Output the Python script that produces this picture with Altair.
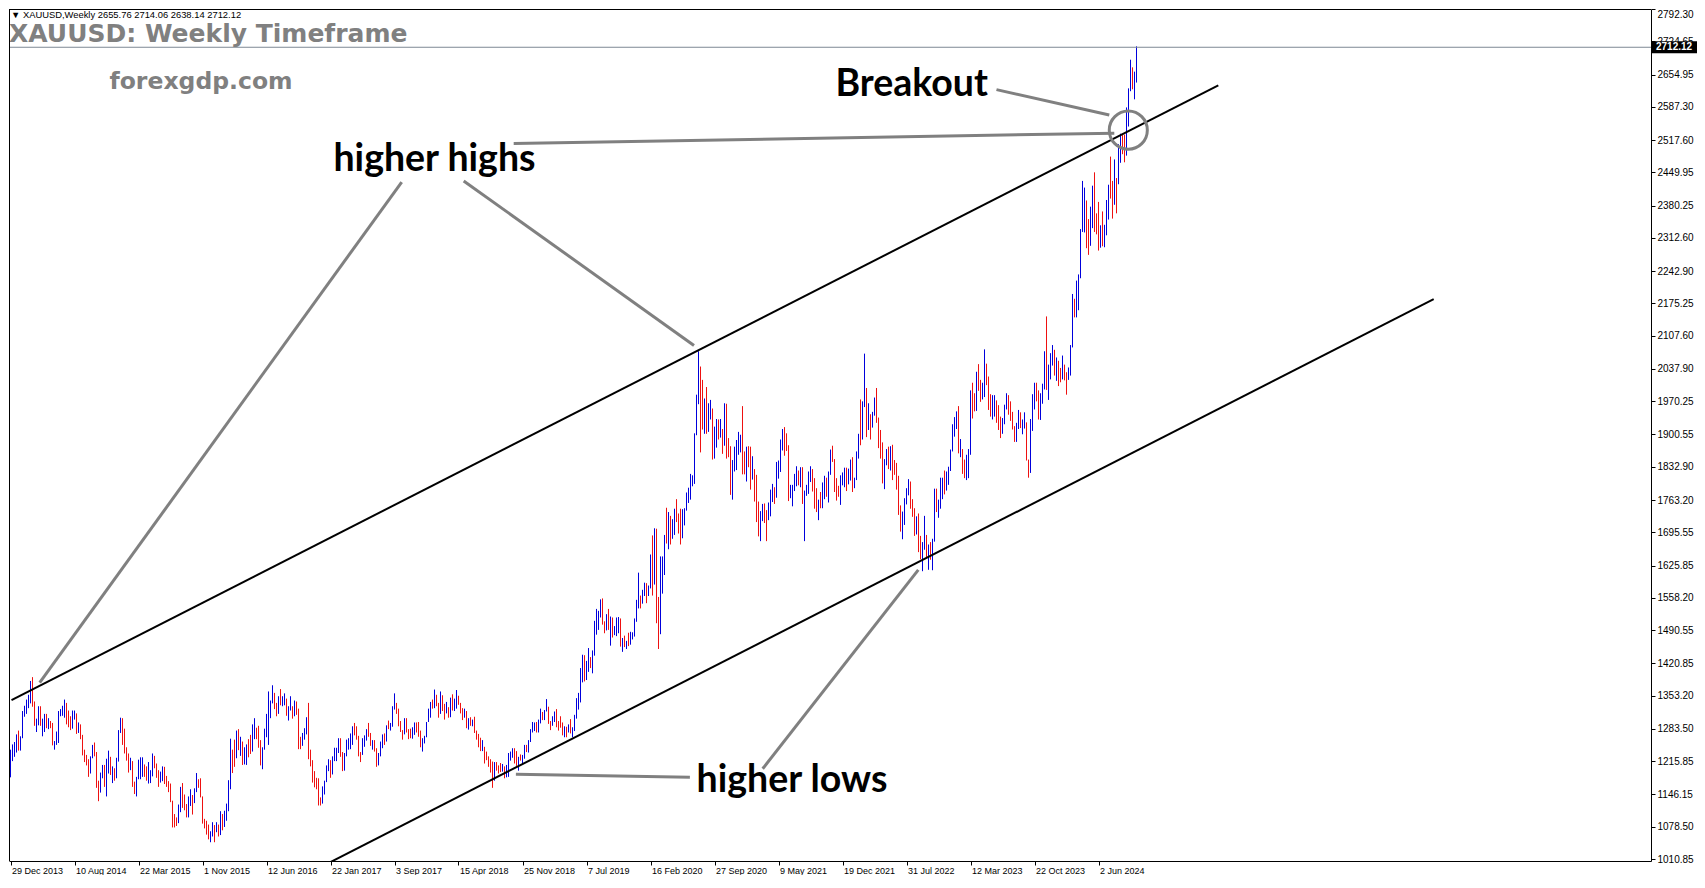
import altair as alt
import pandas as pd

# ---------------- data ----------------
x_tick_labels = ["29 Dec 2013", "10 Aug 2014", "22 Mar 2015", "1 Nov 2015", "12 Jun 2016",
                 "22 Jan 2017", "3 Sep 2017", "15 Apr 2018", "25 Nov 2018", "7 Jul 2019",
                 "16 Feb 2020", "27 Sep 2020", "9 May 2021", "19 Dec 2021", "31 Jul 2022",
                 "12 Mar 2023", "22 Oct 2023", "2 Jun 2024"]
x_tick_step = 32
y_tick_values = [2792.30, 2724.65, 2654.95, 2587.30, 2517.60, 2449.95, 2380.25, 2312.60,
                 2242.90, 2175.25, 2107.60, 2037.90, 1970.25, 1900.55, 1832.90, 1763.20,
                 1695.55, 1625.85, 1558.20, 1490.55, 1420.85, 1353.20, 1283.50, 1215.85,
                 1146.15, 1078.50, 1010.85]

first_open = 1202.0

high = [
    # 2014
    1240,1251,1256,1272,1280,1268,1321,1332,1345,1355,1384,1392,1341,1305,1331,1331,1305,1315,1315,1306,
    1300,1296,1258,1278,1321,1325,1332,1345,1338,1322,1310,1322,1322,1316,1297,1293,1271,1240,1229,1220,
    1226,1250,1255,1235,1175,1192,1208,1208,1221,1238,1225,1205,1201,
    # 2015
    1223,1281,1307,1306,1284,1245,1232,1223,1216,1173,1183,1219,1224,1224,1209,1205,1214,1197,1232,1227,
    1211,1197,1194,1205,1204,1185,1174,1169,1133,1105,1098,1125,1162,1170,1146,1126,1142,1157,1145,1159,
    1191,1178,1180,1142,1095,1091,1083,1069,1088,1082,1088,1083,
    # 2016
    1111,1105,1112,1127,1176,1263,1240,1261,1280,1283,1267,1257,1245,1251,1262,1271,1293,1306,1286,1290,
    1260,1245,1284,1315,1362,1343,1375,1359,1338,1352,1367,1352,1358,1347,1331,1352,1331,1343,1341,1326,
    1267,1275,1285,1308,1338,1240,1218,1195,1181,1180,1140,1163,
    # 2017
    1175,1207,1220,1218,1226,1244,1244,1264,1264,1235,1233,1261,1264,1274,1289,1296,1289,1269,1235,1264,
    1270,1283,1296,1275,1260,1260,1243,1233,1257,1272,1274,1291,1301,1296,1331,1358,1338,1326,1300,1281,
    1306,1306,1283,1284,1287,1297,1297,1298,1280,1264,1269,1298,
    # 2018
    1326,1340,1345,1366,1355,1338,1362,1354,1336,1340,1329,1349,1356,1347,1365,1353,1338,1327,1326,1321,
    1306,1308,1303,1309,1280,1273,1265,1260,1246,1236,1226,1220,1215,1214,1214,1207,1212,1210,1205,1208,
    1233,1236,1243,1243,1237,1225,1230,1229,1250,1250,1260,1283,
    # 2019
    1298,1297,1298,1303,1326,1319,1323,1346,1330,1300,1310,1320,1325,1300,1310,1297,1289,1288,1293,1304,
    1287,1313,1348,1359,1411,1439,1438,1426,1453,1434,1448,1510,1535,1531,1555,1557,1509,1524,1535,1519,
    1517,1499,1517,1518,1515,1474,1479,1468,1485,1487,1486,1515,
    # 2020
    1554,1611,1563,1575,1590,1589,1584,1649,1689,1704,1703,1560,1645,1645,1690,1747,1738,1730,1723,1745,
    1765,1735,1745,1744,1746,1779,1789,1818,1815,1903,1984,2075,2043,2015,1976,2000,1966,1973,1955,1917,
    1933,1932,1933,1912,1966,1965,1893,1876,1847,1875,1889,1906,
    # 2021
    1900,1960,1865,1875,1876,1875,1855,1828,1816,1760,1740,1755,1756,1742,1758,1785,1797,1790,1843,1846,
    1890,1912,1916,1903,1878,1795,1795,1818,1834,1825,1832,1832,1783,1795,1823,1834,1828,1809,1788,1764,
    1780,1800,1814,1810,1823,1869,1877,1849,1809,1793,1815,1821,
    # 2022
    1831,1831,1829,1848,1853,1810,1865,1902,1974,1970,2070,1998,1966,1943,1948,1978,1998,1936,1910,1884,
    1849,1870,1875,1876,1879,1847,1841,1814,1752,1739,1767,1788,1807,1802,1765,1746,1729,1735,1688,1675,
    1730,1690,1670,1675,1682,1787,1787,1764,1810,1810,1825,1823,
    # 2023
    1833,1869,1922,1937,1949,1960,1891,1870,1848,1858,1870,1993,2009,1987,2032,2048,2015,2009,2079,2049,
    2022,1985,1983,1983,1972,1962,1938,1935,1963,1987,1983,1970,1948,1918,1925,1952,1947,1932,1947,1926,
    1848,1933,1985,2009,2009,1993,1987,2007,2075,2148,2047,2071,
    # 2024
    2088,2078,2062,2055,2040,2066,2047,2031,2041,2088,2195,2185,2223,2236,2331,2432,2418,2391,2352,2378,
    2422,2450,2364,2388,2339,2368,2340,2392,2424,2483,2432,2477,2438,2509,2531,2528,2529,2586,2626,2686,
    2670,2661,2714.06,
]

low = [
    # 2014
    1182,1216,1225,1234,1238,1238,1264,1309,1315,1327,1337,1330,1290,1277,1291,1290,1268,1277,1285,1283,
    1285,1249,1240,1250,1254,1310,1311,1307,1293,1287,1281,1284,1303,1273,1275,1262,1228,1214,1207,1183,
    1190,1222,1226,1160,1132,1150,1180,1162,1142,1190,1187,1170,1175,
    # 2015
    1180,1215,1275,1250,1232,1217,1192,1197,1162,1147,1142,1178,1178,1183,1183,1175,1169,1170,1184,1201,
    1181,1162,1171,1174,1168,1162,1151,1130,1077,1077,1080,1086,1109,1118,1113,1098,1098,1122,1104,1128,
    1151,1160,1140,1085,1075,1062,1052,1046,1058,1046,1067,1058,
    # 2016
    1061,1071,1078,1091,1111,1157,1191,1204,1222,1239,1227,1208,1209,1208,1224,1231,1236,1262,1262,1244,
    1207,1199,1240,1266,1250,1306,1337,1325,1310,1315,1333,1331,1333,1311,1301,1322,1305,1310,1313,1241,
    1241,1248,1261,1272,1220,1205,1171,1161,1157,1123,1123,1127,
    # 2017
    1146,1172,1195,1181,1188,1216,1216,1233,1225,1195,1196,1226,1240,1241,1250,1270,1261,1226,1214,1229,
    1246,1259,1267,1248,1240,1236,1204,1207,1226,1243,1250,1257,1283,1280,1288,1324,1315,1289,1277,1261,
    1272,1276,1262,1264,1263,1271,1276,1267,1245,1236,1253,1266,
    # 2018
    1298,1307,1326,1327,1331,1307,1315,1321,1303,1316,1307,1308,1322,1321,1326,1334,1316,1302,1307,1285,
    1282,1290,1289,1275,1261,1245,1237,1237,1211,1218,1204,1192,1160,1175,1196,1190,1193,1194,1180,1182,
    1183,1217,1223,1211,1206,1196,1217,1211,1221,1235,1234,1256,
    # 2019
    1276,1279,1276,1276,1295,1302,1302,1320,1294,1281,1290,1298,1287,1280,1286,1270,1266,1266,1276,1274,
    1266,1279,1305,1324,1339,1381,1383,1386,1403,1411,1400,1437,1481,1491,1517,1502,1484,1490,1491,1458,
    1475,1480,1478,1484,1456,1445,1455,1451,1457,1460,1471,1477,
    # 2020
    1508,1536,1536,1546,1562,1547,1562,1578,1563,1586,1505,1451,1482,1567,1606,1672,1660,1670,1682,1690,
    1717,1693,1670,1683,1710,1741,1757,1764,1792,1797,1899,1964,1863,1911,1902,1902,1906,1932,1848,1850,
    1873,1890,1894,1860,1877,1850,1853,1774,1764,1823,1826,1858,
    # 2021
    1863,1817,1817,1802,1832,1785,1806,1760,1717,1687,1677,1719,1715,1677,1721,1729,1759,1755,1768,1808,
    1822,1867,1856,1866,1761,1767,1750,1782,1792,1794,1790,1755,1677,1772,1776,1801,1781,1745,1738,1721,
    1746,1746,1765,1770,1758,1816,1843,1780,1762,1770,1753,1794,
    # 2022
    1790,1782,1796,1804,1780,1788,1805,1850,1878,1890,1958,1895,1910,1890,1915,1940,1925,1872,1850,1798,
    1786,1836,1828,1825,1805,1816,1785,1732,1697,1681,1711,1754,1773,1745,1728,1688,1691,1654,1639,1614,
    1659,1641,1617,1638,1616,1676,1738,1726,1745,1765,1775,1783,
    # 2023
    1795,1824,1865,1896,1912,1861,1853,1818,1809,1805,1809,1858,1934,1949,1950,1992,1969,1974,1979,2004,
    1952,1938,1932,1938,1925,1910,1893,1902,1922,1953,1942,1929,1911,1885,1885,1912,1914,1901,1913,1846,
    1810,1820,1908,1953,1970,1932,1931,1965,1995,1994,1973,2016,
    # 2024
    2045,2024,2013,2002,2010,2016,2014,1984,2015,2024,2083,2146,2146,2161,2228,2325,2324,2291,2277,2296,
    2333,2325,2320,2286,2292,2295,2293,2318,2351,2395,2353,2382,2364,2425,2470,2488,2471,2485,2546,2620,
    2624,2603,2638.14,
]

close = [
    # 2014
    1237,1248,1252,1264,1240,1262,1318,1323,1326,1339,1379,1335,1294,1302,1318,1294,1300,1302,1291,1293,
    1292,1251,1252,1274,1316,1316,1320,1338,1310,1307,1294,1311,1314,1280,1286,1268,1231,1215,1214,1192,
    1222,1238,1231,1171,1169,1186,1200,1167,1191,1222,1195,1195,1186,
    # 2015
    1216,1277,1293,1279,1234,1228,1205,1212,1164,1152,1182,1199,1200,1206,1203,1178,1178,1189,1225,1204,
    1189,1168,1180,1201,1173,1168,1157,1131,1098,1095,1094,1113,1160,1134,1121,1103,1138,1145,1137,1156,
    1176,1163,1142,1088,1081,1077,1056,1063,1075,1065,1076,1061,
    # 2016
    1104,1090,1097,1116,1174,1238,1230,1222,1271,1250,1254,1221,1221,1243,1235,1233,1290,1290,1273,1252,
    1213,1243,1275,1298,1322,1340,1366,1327,1323,1350,1336,1336,1340,1320,1327,1328,1310,1338,1316,1257,
    1251,1267,1275,1304,1226,1208,1179,1178,1159,1133,1132,1150,
    # 2017
    1173,1197,1205,1190,1220,1234,1236,1257,1234,1202,1229,1243,1249,1254,1288,1284,1268,1228,1227,1254,
    1267,1280,1271,1253,1256,1242,1212,1227,1254,1268,1258,1289,1285,1291,1325,1346,1320,1297,1280,1275,
    1304,1280,1273,1269,1275,1294,1288,1280,1248,1257,1267,1297,
    # 2018
    1322,1338,1333,1349,1333,1315,1346,1330,1322,1324,1312,1346,1324,1332,1345,1336,1323,1314,1319,1291,
    1303,1294,1298,1278,1270,1252,1241,1241,1231,1223,1214,1212,1184,1206,1201,1197,1194,1198,1195,1202,
    1217,1226,1233,1232,1209,1223,1222,1222,1248,1238,1257,1280,
    # 2019
    1285,1288,1282,1297,1317,1314,1322,1329,1299,1298,1302,1313,1292,1291,1290,1275,1286,1280,1286,1277,
    1284,1305,1341,1341,1400,1409,1400,1416,1425,1419,1440,1497,1513,1527,1529,1506,1488,1517,1497,1504,
    1488,1490,1505,1509,1459,1468,1462,1463,1460,1476,1478,1511,
    # 2020
    1552,1562,1557,1571,1589,1570,1584,1644,1585,1674,1530,1498,1617,1620,1683,1682,1726,1700,1702,1743,
    1734,1730,1684,1729,1743,1771,1774,1799,1810,1902,1975,2035,1944,1940,1964,1934,1940,1950,1862,1900,
    1930,1900,1902,1879,1951,1888,1871,1788,1839,1839,1881,1883,
    # 2021
    1895,1849,1828,1856,1848,1814,1824,1784,1734,1700,1719,1745,1732,1728,1744,1777,1777,1769,1831,1844,
    1881,1903,1891,1877,1764,1781,1787,1808,1814,1801,1814,1763,1780,1781,1817,1827,1787,1754,1750,1761,
    1757,1767,1793,1783,1818,1865,1846,1792,1783,1782,1798,1808,
    # 2022
    1829,1797,1818,1835,1791,1808,1859,1898,1889,1966,1988,1921,1958,1925,1945,1974,1931,1896,1883,1811,
    1846,1853,1851,1871,1840,1827,1811,1742,1707,1727,1766,1775,1802,1747,1737,1712,1716,1675,1644,1661,
    1695,1644,1657,1644,1681,1769,1751,1754,1797,1797,1793,1798,
    # 2023
    1824,1865,1920,1926,1928,1865,1865,1842,1811,1856,1868,1989,1978,1969,2007,2004,1983,1990,2017,2011,
    1978,1946,1948,1962,1958,1921,1919,1925,1955,1962,1959,1943,1914,1889,1915,1940,1919,1923,1925,1848,
    1833,1932,1981,2006,1992,1940,1981,2001,2072,2004,2019,2053,
    # 2024
    2062,2045,2049,2029,2018,2039,2024,2013,2035,2083,2179,2155,2165,2230,2330,2344,2392,2337,2301,2360,
    2415,2334,2327,2293,2333,2322,2326,2392,2411,2401,2386,2443,2431,2507,2512,2503,2497,2578,2622,2658,
    2653,2655.76,2712.12,
]

# channel (trend) lines: bar index / price end points
channel_x0 = [0.5, 155.6]
channel_y0 = [1344.0, 995.0]
channel_x1 = [603.9, 711.6]
channel_y1 = [2632.2, 2184.3]

# grey pointer lines
pointer_x0 = [251.6, 195.6, 226.6, 493.0, 252.7, 376.1]
pointer_y0 = [2510.6, 2429.7, 2432.0, 2623.3, 1188.7, 1200.1]
pointer_x1 = [551.9, 14.6, 341.75, 549.4, 339.7, 453.9]
pointer_y1 = [2532.0, 1380.3, 2087.0, 2570.0, 1182.0, 1616.8]

circle_x = [558.9]
circle_y = [2538.4]

note_text = ["higher highs", "Breakout", "higher lows"]
note_x = [212.0, 450.6, 390.75]
note_y = [2452.0, 2610.0, 1150.4]

title_text = "XAUUSD: Weekly Timeframe"
site_text = "forexgdp.com"

# ---------------- build ----------------
W, H = 1642, 852
Y_MIN, Y_MAX = 1006.66, 2792.3
BLUE, RED, GREY = "#0000dc", "#ee1111", "#808080"

n = len(close)
opens = [first_open] + close[:-1]
bars = pd.DataFrame({
    "bar": list(range(n)), "high": high, "low": low, "close": close, "open": opens,
})
bars["dir"] = ["up" if c >= o else "down" for c, o in zip(close, opens)]

header_text = "\u25bc XAUUSD,Weekly  {:.2f} {:.2f} {:.2f} {:.2f}".format(
    opens[-1], high[-1], low[-1], close[-1])

xscale = alt.Scale(domain=[-0.75, W / 2 - 0.75], nice=False, zero=False)
yscale = alt.Scale(domain=[Y_MIN, Y_MAX], nice=False, zero=False)
price_per_px = (Y_MAX - Y_MIN) / H

label_array = "[" + ",".join("'" + s + "'" for s in x_tick_labels) + "]"
xaxis = alt.Axis(
    values=[i * x_tick_step for i in range(len(x_tick_labels))],
    labelExpr=label_array + "[round(datum.value / " + str(x_tick_step) + ")]",
    title=None, grid=False, orient="bottom", labelAlign="left", labelOffset=1,
    labelFlush=False, labelOverlap=False, tickSize=4, tickColor="black",
    domainColor="black", labelColor="black", labelFont="Liberation Sans",
    labelFontSize=9, labelPadding=1,
)
yaxis = alt.Axis(
    values=y_tick_values, format=".2f", orient="right", title=None, grid=False,
    tickSize=4, tickColor="black", domainColor="black", labelColor="black",
    labelFont="Liberation Sans", labelFontSize=10, labelPadding=2,
    labelOverlap=False, labelFlush=1,
)


def X(field):
    return alt.X(field, scale=xscale, axis=xaxis)


def Y(field):
    return alt.Y(field, scale=yscale, axis=yaxis)


last = close[-1]
price_df = pd.DataFrame({
    "p": [last], "lbl": ["{:.2f}".format(last)],
    "p_hi": [last + 6 * price_per_px], "p_lo": [last - 6 * price_per_px],
})

# chart frame (left / top edges; bottom / right come from the axes)
frame_left = alt.Chart(price_df).mark_rule(color="black", strokeWidth=1).encode(
    x=alt.value(0.5), y=alt.value(0), y2=alt.value(H))
frame_top = alt.Chart(price_df).mark_rule(color="black", strokeWidth=1).encode(
    y=alt.value(0.5), x=alt.value(0), x2=alt.value(W))

price_line = alt.Chart(price_df).mark_rule(color="#7d8894", strokeWidth=1).encode(
    y=Y("p:Q"), x=alt.value(0), x2=alt.value(W))

bar_layer = alt.Chart(bars).mark_rule(strokeWidth=1).encode(
    x=X("bar:Q"),
    y=Y("low:Q"),
    y2="high:Q",
    color=alt.Color("dir:N", scale=alt.Scale(domain=["up", "down"], range=[BLUE, RED]), legend=None),
)

chan_df = pd.DataFrame({"x0": channel_x0, "y0": channel_y0, "x1": channel_x1, "y1": channel_y1})
chan_layer = alt.Chart(chan_df).mark_rule(color="black", strokeWidth=2, clip=True).encode(
    x=X("x0:Q"), y=Y("y0:Q"), x2="x1:Q", y2="y1:Q")

ptr_df = pd.DataFrame({"x0": pointer_x0, "y0": pointer_y0, "x1": pointer_x1, "y1": pointer_y1})
ptr_layer = alt.Chart(ptr_df).mark_rule(color=GREY, strokeWidth=3).encode(
    x=X("x0:Q"), y=Y("y0:Q"), x2="x1:Q", y2="y1:Q")

circ_df = pd.DataFrame({"x": circle_x, "y": circle_y})
circ_layer = alt.Chart(circ_df).mark_point(
    shape="circle", size=1450, filled=False, strokeWidth=3, color=GREY, opacity=1).encode(
    x=X("x:Q"), y=Y("y:Q"))

note_df = pd.DataFrame({"t": note_text, "x": note_x, "y": note_y})
note_layer = alt.Chart(note_df).mark_text(
    font="Lato", fontWeight="bold", fontSize=37.5, color="black",
    align="center", baseline="alphabetic").encode(
    x=X("x:Q"), y=Y("y:Q"), text="t:N")

title_layer = alt.Chart(pd.DataFrame({"t": [title_text]})).mark_text(
    font="DejaVu Sans", fontWeight="bold", fontSize=25, color=GREY,
    align="left", baseline="alphabetic").encode(
    x=alt.value(0), y=alt.value(33), text="t:N")

site_layer = alt.Chart(pd.DataFrame({"t": [site_text]})).mark_text(
    font="DejaVu Sans", fontWeight="bold", fontSize=23.5, color=GREY,
    align="center", baseline="alphabetic").encode(
    x=alt.value(192), y=alt.value(80), text="t:N")

header_layer = alt.Chart(pd.DataFrame({"t": [header_text]})).mark_text(
    font="Liberation Sans", fontSize=9.4, color="black",
    align="left", baseline="alphabetic").encode(
    x=alt.value(2), y=alt.value(9), text="t:N")

box_layer = alt.Chart(price_df).mark_rect(color="black").encode(
    y=Y("p_hi:Q"), y2="p_lo:Q", x=alt.value(W + 1), x2=alt.value(W + 46))
box_text = alt.Chart(price_df).mark_text(
    font="Liberation Sans", fontSize=10, fontWeight="bold", color="white",
    align="left", baseline="middle").encode(
    y=Y("p:Q"), x=alt.value(W + 5), text="lbl:N")

chart = alt.layer(
    bar_layer, price_line, chan_layer, ptr_layer, circ_layer, note_layer,
    title_layer, site_layer, header_layer, frame_left, frame_top, box_layer, box_text,
).properties(
    width=W, height=H, padding=0, background="white",
).configure_view(
    stroke=None,
)

chart.save("out.html", embed_options={"renderer": "svg", "actions": False})
